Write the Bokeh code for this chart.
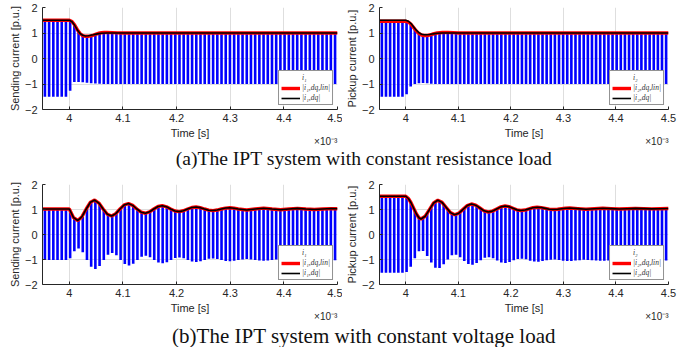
from bokeh.plotting import figure
from bokeh.models import (Range1d, FixedTicker, CustomJSTickFormatter, Legend,
                          LegendItem, Label, LinearAxis)
from bokeh.layouts import column, row
from bokeh.embed import file_html
from bokeh.resources import INLINE

# ---------------- data (time in 1e-3 s, current in p.u.) ----------------
x_ticks = [4.0, 4.1, 4.2, 4.3, 4.4, 4.5]
y_ticks = [-2, -1, 0, 1, 2]
x_exponent_text = "\u00d710\u207b\u00b3"
x_exponent_pos = [4.478]

carrier_start = 3.9545
carrier_period = 0.00784
carrier_t = [round(carrier_start + k * carrier_period, 5) for k in range(70)]

# (a) constant resistance load, sending side
a1_dq_t = [3.95, 4.0, 4.005, 4.01, 4.015, 4.02, 4.025, 4.03, 4.035, 4.04, 4.045,
           4.05, 4.055, 4.06, 4.07, 4.08, 4.5]
a1_dq = [1.5, 1.5, 1.44, 1.30, 1.12, 0.98, 0.91, 0.885, 0.89, 0.91, 0.93,
         0.955, 0.975, 0.99, 1.0, 1.0, 1.0]
a1_lin_t = [3.95, 4.0, 4.005, 4.01, 4.015, 4.02, 4.025, 4.03, 4.035, 4.04, 4.045,
            4.05, 4.055, 4.06, 4.065, 4.07, 4.08, 4.09, 4.1, 4.5]
a1_lin = [1.5, 1.5, 1.45, 1.31, 1.13, 0.98, 0.90, 0.87, 0.87, 0.89, 0.92,
          0.96, 0.99, 1.01, 1.02, 1.02, 1.015, 1.005, 1.0, 1.0]
a1_pos = [1.5] * 6 + [1.48, 1.32, 1.05, 0.90, 0.88, 0.91, 0.945, 0.97, 0.99] + [1.0] * 55
a1_neg = [1.5] * 6 + [1.26, 0.92, 0.92, 0.93, 0.95, 0.97, 0.98, 0.99] + [1.0] * 56

# (a) constant resistance load, pickup side
a2_dq_t = [3.95, 4.0, 4.005, 4.01, 4.015, 4.02, 4.025, 4.03, 4.035, 4.04, 4.045,
           4.05, 4.055, 4.06, 4.07, 4.5]
a2_dq = [1.5, 1.5, 1.46, 1.37, 1.24, 1.11, 1.01, 0.95, 0.93, 0.93, 0.94,
         0.96, 0.975, 0.99, 1.0, 1.0]
a2_lin_t = [3.95, 4.0, 4.005, 4.01, 4.015, 4.02, 4.025, 4.03, 4.035, 4.04, 4.045,
            4.05, 4.06, 4.07, 4.08, 4.09, 4.1, 4.5]
a2_lin = [1.46, 1.46, 1.43, 1.34, 1.21, 1.08, 0.98, 0.92, 0.90, 0.90, 0.92,
          0.95, 1.0, 1.02, 1.025, 1.015, 1.0, 1.0]
a2_pos = [1.5] * 6 + [1.48, 1.37, 1.16, 1.0, 0.94, 0.93, 0.955, 0.98, 0.995] + [1.0] * 55
a2_neg = [1.5] * 6 + [1.4, 1.1, 1.0, 0.97, 0.96, 0.97, 0.99] + [1.0] * 57

# (b) constant voltage load, sending side
b1_t = [3.95, 4.0, 4.0079, 4.0158, 4.0236, 4.0315, 4.0394, 4.0473, 4.0551, 4.063,
        4.0709, 4.0788, 4.0866, 4.0945, 4.1024, 4.1103, 4.1181, 4.126, 4.1339,
        4.1418, 4.1496, 4.1575, 4.1654, 4.1733, 4.1811, 4.189, 4.1969, 4.2048,
        4.2126, 4.2205, 4.2284, 4.2363, 4.2441, 4.252, 4.2599, 4.2678, 4.2756,
        4.2835, 4.2914, 4.2993, 4.3071, 4.315, 4.3308, 4.3465, 4.3623, 4.378,
        4.3938, 4.4095, 4.4253, 4.441, 4.4568, 4.4725, 4.4883, 4.5]
b1_dq = [1.02, 1.02, 0.674, 0.56, 0.714, 1.02, 1.29, 1.379, 1.258, 1.02,
         0.809, 0.74, 0.834, 1.02, 1.184, 1.238, 1.165, 1.02, 0.892,
         0.85, 0.907, 1.02, 1.12, 1.153, 1.108, 1.02, 0.942, 0.916,
         0.951, 1.02, 1.081, 1.101, 1.074, 1.02, 0.973, 0.957, 0.978,
         1.02, 1.057, 1.069, 1.053, 1.02, 0.982, 1.02, 1.053, 1.02,
         0.992, 1.02, 1.044, 1.02, 1.0, 1.02, 1.037, 1.03]
b1_lin = b1_dq
b1_pos = [1.02] * 6 + [0.95, 0.67, 0.56, 0.71, 1.02, 1.29, 1.38, 1.26, 1.02, 0.81,
                       0.74, 0.83, 1.02, 1.18, 1.24, 1.17, 1.02, 0.89, 0.85, 0.91,
                       1.02, 1.12, 1.15, 1.11, 1.02, 0.94, 0.92, 0.95, 1.02, 1.08,
                       1.10, 1.07, 1.02, 0.97, 0.96, 0.98, 1.02, 1.06, 1.07, 1.05,
                       1.02, 1.0, 0.98, 1.0, 1.02, 1.04, 1.05, 1.04, 1.02, 1.0,
                       0.99, 1.0, 1.02, 1.03, 1.04, 1.03, 1.02, 1.01, 1.0, 1.01,
                       1.02, 1.03, 1.035, 1.03]
b1_neg = b1_pos

# (b) constant voltage load, pickup side
b2_t = [3.95, 4.0, 4.005, 4.01, 4.015, 4.02, 4.025, 4.029, 4.037, 4.045, 4.053,
        4.061, 4.069, 4.077, 4.085, 4.093, 4.101, 4.109, 4.117, 4.125, 4.133,
        4.141, 4.149, 4.157, 4.165, 4.173, 4.181, 4.189, 4.1965, 4.204, 4.2115,
        4.219, 4.227, 4.2345, 4.242, 4.25, 4.258, 4.2655, 4.273, 4.281, 4.289,
        4.2965, 4.304, 4.312, 4.3275, 4.343, 4.359, 4.375, 4.3905, 4.406,
        4.4215, 4.437, 4.4525, 4.468, 4.484, 4.5]
b2_dq = [1.53, 1.53, 1.44, 1.27, 1.05, 0.83, 0.67, 0.62, 0.73, 0.995, 1.26,
         1.37, 1.285, 1.08, 0.875, 0.79, 0.853, 1.005, 1.157, 1.22, 1.173,
         1.06, 0.947, 0.90, 0.935, 1.02, 1.105, 1.14, 1.114, 1.05, 0.986,
         0.96, 0.979, 1.025, 1.071, 1.09, 1.077, 1.045, 1.013, 1.0, 1.009,
         1.03, 1.051, 1.06, 1.035, 1.01, 1.03, 1.05, 1.035, 1.02,
         1.0325, 1.045, 1.035, 1.025, 1.0325, 1.04]
b2_lin = b2_dq
b2_pos = [1.53] * 6 + [1.50, 1.29, 0.95, 0.67, 0.66, 0.86, 1.12, 1.33, 1.34, 1.19,
                       1.0, 0.83, 0.81, 0.91, 1.06, 1.18, 1.21, 1.14, 1.03, 0.93,
                       0.91, 0.95, 1.04, 1.12, 1.14, 1.10, 1.03, 0.975, 0.965, 0.99,
                       1.045, 1.08, 1.085, 1.06, 1.03, 1.005, 1.004, 1.02, 1.045, 1.058,
                       1.055, 1.04, 1.028, 1.014, 1.015, 1.027, 1.036, 1.046, 1.047, 1.038,
                       1.03, 1.022, 1.024, 1.03, 1.036, 1.043, 1.042, 1.036, 1.031, 1.026,
                       1.028, 1.032, 1.035, 1.039]
b2_neg = b2_pos

caption_a = "(a)The IPT system with constant resistance load"
caption_b = "(b)The IPT system with constant voltage load"

# ---------------- styling ----------------
AX = "#262626"
GRID = "#dedede"
SANS = "Liberation Sans"
SERIF = "Liberation Serif"


def make_panel(width, height, bl, br, bt, bb, ylabel, sub,
               dq_t, dq, lin_t, lin, pos, neg):
    p = figure(width=width, height=height,
               x_range=Range1d(3.95, 4.5), y_range=Range1d(-2, 2),
               output_backend="svg", toolbar_location=None,
               min_border_left=bl, min_border_right=br,
               min_border_top=bt, min_border_bottom=bb,
               background_fill_color="white", border_fill_color="white")
    p.outline_line_color = None

    p.xaxis.ticker = FixedTicker(ticks=x_ticks)
    p.xaxis.formatter = CustomJSTickFormatter(
        code="var s = tick.toFixed(1); return s.endsWith('.0') ? s.slice(0, -2) : s;")
    p.yaxis.ticker = FixedTicker(ticks=y_ticks)
    for ax in (p.xaxis[0], p.yaxis[0]):
        ax.axis_line_color = AX
        ax.axis_line_width = 1
        ax.major_tick_line_color = AX
        ax.major_tick_in = 3
        ax.major_tick_out = 0
        ax.minor_tick_line_color = None
        ax.major_label_text_font = SANS
        ax.major_label_text_font_size = "11px"
        ax.major_label_text_color = AX
        ax.axis_label_text_font = SANS
        ax.axis_label_text_font_size = "11px"
        ax.axis_label_text_font_style = "normal"
        ax.axis_label_text_color = AX
    p.xaxis.axis_label = "Time [s]"
    p.xaxis.major_label_standoff = 4
    p.xaxis.axis_label_standoff = 2
    p.yaxis.axis_label = ylabel
    p.yaxis.major_label_standoff = 5
    p.yaxis.axis_label_standoff = 1

    # exponent of the time axis (x 10^-3), as a label-only second axis
    exp_axis = LinearAxis(
        ticker=FixedTicker(ticks=x_exponent_pos),
        formatter=CustomJSTickFormatter(code="return '%s';" % x_exponent_text),
        axis_line_color=None, major_tick_line_color=None,
        minor_tick_line_color=None, major_tick_in=0, major_tick_out=0,
        major_label_standoff=-6, major_label_text_font=SANS,
        major_label_text_font_size="10px", major_label_text_color=AX)
    p.add_layout(exp_axis, "below")

    p.xgrid.grid_line_color = GRID
    p.ygrid.grid_line_color = GRID
    p.xgrid.grid_line_width = 1
    p.ygrid.grid_line_width = 1

    p.segment(x0=carrier_t, y0=[-v for v in neg], x1=carrier_t, y1=pos,
              line_color="#0000ff", line_width=2.6)
    red = p.line(lin_t, lin, line_color="#ff0000", line_width=3.4)
    black = p.line(dq_t, dq, line_color="#000000", line_width=1.6)
    blue_key = p.line([], [], line_color="#0000ff", line_width=1.2)

    legend = Legend(items=[
        LegendItem(label="i" + sub, renderers=[blue_key]),
        LegendItem(label="|i" + sub + ",dq,lin|", renderers=[red]),
        LegendItem(label="|i" + sub + ",dq|", renderers=[black]),
    ], location="bottom_right")
    legend.label_text_font = SERIF
    legend.label_text_font_style = "italic"
    legend.label_text_font_size = "7.5px"
    legend.label_text_color = "#333333"
    legend.glyph_width = 19
    legend.glyph_height = 8
    legend.label_height = 8
    legend.label_standoff = 2
    legend.spacing = 1
    legend.padding = 2
    legend.margin = 4
    legend.border_line_color = AX
    legend.border_line_width = 1
    legend.background_fill_alpha = 1
    p.add_layout(legend)
    return p


def make_caption(text, height, center_from_top, size):
    c = figure(width=695, height=height, x_range=Range1d(0, 695),
               y_range=Range1d(0, height),
               output_backend="svg", toolbar_location=None, min_border=0,
               x_axis_type=None, y_axis_type=None)
    c.outline_line_color = None
    c.add_layout(Label(x=363.5, y=height - center_from_top, text=text,
                       text_align="center", text_baseline="middle",
                       text_font=SERIF, text_font_size=size,
                       text_color="#111111"))
    return c


p1 = make_panel(342, 149, 42, 5, 7, 36, "Sending current [p.u.]", "\u2081",
                a1_dq_t, a1_dq, a1_lin_t, a1_lin, a1_pos, a1_neg)
p2 = make_panel(353, 149, 31, 27, 7, 36, "Pickup current [p.u.]", "\u2082",
                a2_dq_t, a2_dq, a2_lin_t, a2_lin, a2_pos, a2_neg)
p3 = make_panel(342, 155, 42, 5, 15, 36, "Sending current [p.u.]", "\u2081",
                b1_t, b1_dq, b1_t, b1_lin, b1_pos, b1_neg)
p4 = make_panel(353, 155, 31, 27, 15, 36, "Pickup current [p.u.]", "\u2082",
                b2_t, b2_dq, b2_t, b2_lin, b2_pos, b2_neg)

layout = column(row(p1, p2), make_caption(caption_a, 20, 9, "19.6px"),
                row(p3, p4), make_caption(caption_b, 23, 11, "21px"))

open("out.html", "w").write(file_html(layout, INLINE))
